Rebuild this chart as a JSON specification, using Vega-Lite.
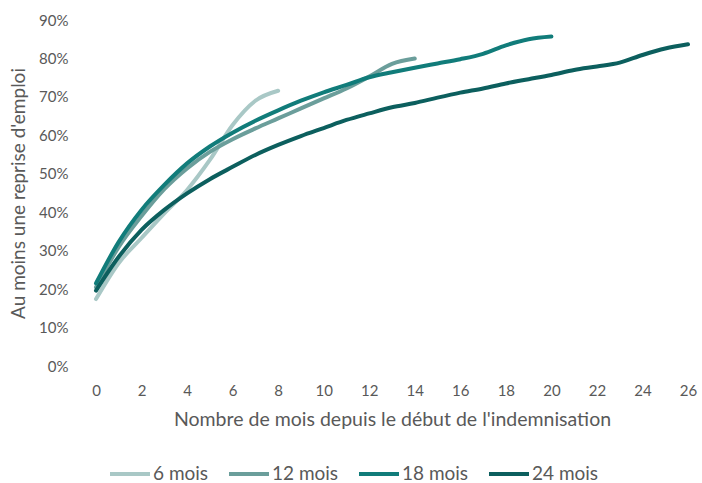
{
  "$schema": "https://vega.github.io/schema/vega-lite/v6.json",
  "width": 592,
  "height": 346,
  "autosize": "none",
  "padding": {"left": 96, "top": 20, "right": 14, "bottom": 117},
  "background": "white",
  "config": {
    "view": {"stroke": null},
    "font": "Lato",
    "axis": {"labelFont": "Lato", "titleFont": "Lato", "labelColor": "#595959", "titleColor": "#595959", "titleFontWeight": "normal", "domain": false, "ticks": false, "grid": false, "labelFlush": false},
    "legend": {"labelFont": "Lato", "labelColor": "#595959"}
  },
  "data": {
    "values": [
      {"m": 0, "v": 0.174, "s": "6 mois"},
      {"m": 1, "v": 0.268, "s": "6 mois"},
      {"m": 2, "v": 0.333, "s": "6 mois"},
      {"m": 3, "v": 0.397, "s": "6 mois"},
      {"m": 4, "v": 0.458, "s": "6 mois"},
      {"m": 5, "v": 0.536, "s": "6 mois"},
      {"m": 6, "v": 0.627, "s": "6 mois"},
      {"m": 7, "v": 0.690, "s": "6 mois"},
      {"m": 8, "v": 0.716, "s": "6 mois"},
      {"m": 0, "v": 0.205, "s": "12 mois"},
      {"m": 1, "v": 0.31, "s": "12 mois"},
      {"m": 2, "v": 0.39, "s": "12 mois"},
      {"m": 3, "v": 0.46, "s": "12 mois"},
      {"m": 4, "v": 0.514, "s": "12 mois"},
      {"m": 5, "v": 0.557, "s": "12 mois"},
      {"m": 6, "v": 0.590, "s": "12 mois"},
      {"m": 7, "v": 0.618, "s": "12 mois"},
      {"m": 8, "v": 0.644, "s": "12 mois"},
      {"m": 9, "v": 0.670, "s": "12 mois"},
      {"m": 10, "v": 0.696, "s": "12 mois"},
      {"m": 11, "v": 0.722, "s": "12 mois"},
      {"m": 12, "v": 0.753, "s": "12 mois"},
      {"m": 13, "v": 0.786, "s": "12 mois"},
      {"m": 14, "v": 0.800, "s": "12 mois"},
      {"m": 0, "v": 0.215, "s": "18 mois"},
      {"m": 1, "v": 0.323, "s": "18 mois"},
      {"m": 2, "v": 0.406, "s": "18 mois"},
      {"m": 3, "v": 0.471, "s": "18 mois"},
      {"m": 4, "v": 0.527, "s": "18 mois"},
      {"m": 5, "v": 0.571, "s": "18 mois"},
      {"m": 6, "v": 0.607, "s": "18 mois"},
      {"m": 7, "v": 0.638, "s": "18 mois"},
      {"m": 8, "v": 0.665, "s": "18 mois"},
      {"m": 9, "v": 0.690, "s": "18 mois"},
      {"m": 10, "v": 0.712, "s": "18 mois"},
      {"m": 11, "v": 0.731, "s": "18 mois"},
      {"m": 12, "v": 0.751, "s": "18 mois"},
      {"m": 13, "v": 0.764, "s": "18 mois"},
      {"m": 14, "v": 0.776, "s": "18 mois"},
      {"m": 15, "v": 0.787, "s": "18 mois"},
      {"m": 16, "v": 0.798, "s": "18 mois"},
      {"m": 17, "v": 0.812, "s": "18 mois"},
      {"m": 18, "v": 0.834, "s": "18 mois"},
      {"m": 19, "v": 0.850, "s": "18 mois"},
      {"m": 20, "v": 0.857, "s": "18 mois"},
      {"m": 0, "v": 0.196, "s": "24 mois"},
      {"m": 1, "v": 0.284, "s": "24 mois"},
      {"m": 2, "v": 0.354, "s": "24 mois"},
      {"m": 3, "v": 0.406, "s": "24 mois"},
      {"m": 4, "v": 0.449, "s": "24 mois"},
      {"m": 5, "v": 0.486, "s": "24 mois"},
      {"m": 6, "v": 0.518, "s": "24 mois"},
      {"m": 7, "v": 0.549, "s": "24 mois"},
      {"m": 8, "v": 0.575, "s": "24 mois"},
      {"m": 9, "v": 0.598, "s": "24 mois"},
      {"m": 10, "v": 0.619, "s": "24 mois"},
      {"m": 11, "v": 0.640, "s": "24 mois"},
      {"m": 12, "v": 0.657, "s": "24 mois"},
      {"m": 13, "v": 0.673, "s": "24 mois"},
      {"m": 14, "v": 0.684, "s": "24 mois"},
      {"m": 15, "v": 0.698, "s": "24 mois"},
      {"m": 16, "v": 0.711, "s": "24 mois"},
      {"m": 17, "v": 0.722, "s": "24 mois"},
      {"m": 18, "v": 0.735, "s": "24 mois"},
      {"m": 19, "v": 0.746, "s": "24 mois"},
      {"m": 20, "v": 0.757, "s": "24 mois"},
      {"m": 21, "v": 0.770, "s": "24 mois"},
      {"m": 22, "v": 0.779, "s": "24 mois"},
      {"m": 23, "v": 0.789, "s": "24 mois"},
      {"m": 24, "v": 0.809, "s": "24 mois"},
      {"m": 25, "v": 0.826, "s": "24 mois"},
      {"m": 26, "v": 0.837, "s": "24 mois"}
    ]
  },
  "mark": {"type": "line", "strokeWidth": 4, "strokeCap": "round", "strokeJoin": "round", "interpolate": "monotone"},
  "encoding": {
    "x": {
      "field": "m", "type": "quantitative",
      "scale": {"domain": [0, 26], "nice": false, "zero": false},
      "axis": {"values": [0,2,4,6,8,10,12,14,16,18,20,22,24,26], "labelFontSize": 15, "labelPadding": 17, "title": "Nombre de mois depuis le début de l'indemnisation", "titleFontSize": 19.5, "titlePadding": 12}
    },
    "y": {
      "field": "v", "type": "quantitative",
      "scale": {"domain": [0, 0.9], "nice": false},
      "axis": {"values": [0,0.1,0.2,0.3,0.4,0.5,0.6,0.7,0.8,0.9], "format": ".0%", "labelFontSize": 15, "labelPadding": 28, "title": "Au moins une reprise d'emploi", "titleFontSize": 19, "titlePadding": 10}
    },
    "color": {
      "field": "s", "type": "nominal",
      "sort": ["6 mois", "12 mois", "18 mois", "24 mois"],
      "scale": {"domain": ["6 mois", "12 mois", "18 mois", "24 mois"], "range": ["#a9c8c6", "#6b9e9b", "#117c7a", "#0c5f5e"]},
      "legend": {"title": null, "orient": "none", "direction": "horizontal", "legendX": 12, "legendY": 432, "symbolType": "stroke", "symbolSize": 1600, "symbolStrokeWidth": 4, "labelFontSize": 19, "labelOffset": 1, "columnPadding": 12, "padding": 0}
    }
  }
}
